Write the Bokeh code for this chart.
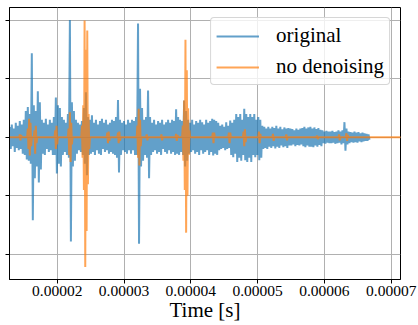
from bokeh.plotting import figure
from bokeh.models import FixedTicker, NumeralTickFormatter, Range1d
from bokeh.embed import file_html
from bokeh.resources import INLINE

# ---- data ----
# "original" signal: per-column positive / negative excursions,
# columns start at 12.9 us and are 0.3 us apart
T0_US = 12.9
DT_US = 0.3
blue_hi = [
    0.18, 0.22, 0.15, 0.25, 0.20, 0.28, 0.22, 0.30, 0.45, 0.52,
    0.40, 1.44, 0.55, 0.45, 0.79, 0.60, 0.30, 0.25, 0.32, 0.22,
    0.30, 0.25, 0.35, 0.68, 0.55, 0.50, 0.35, 0.30, 0.25, 0.40,
    2.01, 0.60, 0.45, 0.30, 0.25, 0.22, 0.28, 0.50, 0.77, 0.35,
    0.30, 0.38, 0.25, 0.30, 0.22, 0.28, 0.32, 0.25, 0.30, 0.22,
    0.25, 0.30, 0.28, 0.35, 0.64, 0.30, 0.25, 0.28, 0.22, 0.30,
    0.25, 0.30, 0.28, 0.35, 1.95, 0.83, 0.50, 0.30, 0.35, 0.80,
    0.35, 0.25, 0.30, 0.22, 0.28, 0.25, 0.30, 0.22, 0.26, 0.30,
    0.25, 0.30, 0.28, 0.48, 0.35, 0.30, 0.28, 0.63, 0.45, 0.30,
    0.25, 0.30, 0.22, 0.28, 0.25, 0.30, 0.26, 0.22, 0.30, 0.25,
    0.28, 0.32, 0.30, 0.28, 0.25, 0.20, 0.22, 0.18, 0.26, 0.20,
    0.29, 0.25, 0.30, 0.40, 0.35, 0.40, 0.30, 0.49, 0.40, 0.35,
    0.40, 0.35, 0.40, 0.30, 0.35, 0.30, 0.20, 0.18, 0.15, 0.18,
    0.15, 0.18, 0.16, 0.20, 0.15, 0.18, 0.14, 0.17, 0.15, 0.16,
    0.15, 0.14, 0.12, 0.15, 0.13, 0.15, 0.16, 0.18, 0.15, 0.17,
    0.18, 0.15, 0.17, 0.14, 0.16, 0.13, 0.12, 0.10, 0.11, 0.10,
    0.10, 0.11, 0.09, 0.10, 0.12, 0.10, 0.12, 0.26, 0.15, 0.10,
    0.09, 0.08, 0.10, 0.08, 0.09, 0.07, 0.08, 0.07, 0.06, 0.05,
]
blue_lo = [
    -0.20, -0.15, -0.25, -0.18, -0.22, -0.20, -0.28, -0.30, -0.38, -0.40,
    -0.45, -1.42, -0.70, -0.50, -0.77, -0.55, -0.28, -0.30, -0.20, -0.25,
    -0.22, -0.30, -0.30, -0.62, -0.45, -0.50, -0.30, -0.25, -0.30, -0.35,
    -1.78, -0.50, -0.40, -0.28, -0.22, -0.25, -0.30, -0.45, -0.65, -0.30,
    -0.28, -0.25, -0.30, -0.22, -0.28, -0.30, -0.20, -0.25, -0.22, -0.28,
    -0.25, -0.28, -0.30, -0.35, -0.60, -0.30, -0.22, -0.25, -0.28, -0.22,
    -0.28, -0.22, -0.30, -0.30, -1.82, -0.50, -0.40, -0.30, -0.35, -0.70,
    -0.30, -0.25, -0.22, -0.28, -0.25, -0.30, -0.20, -0.25, -0.28, -0.22,
    -0.28, -0.25, -0.30, -0.28, -0.30, -0.25, -0.30, -0.50, -0.40, -0.28,
    -0.25, -0.22, -0.28, -0.25, -0.30, -0.22, -0.28, -0.25, -0.22, -0.30,
    -0.25, -0.31, -0.28, -0.30, -0.22, -0.20, -0.18, -0.22, -0.20, -0.18,
    -0.30, -0.34, -0.28, -0.42, -0.35, -0.40, -0.30, -0.39, -0.42, -0.35,
    -0.42, -0.30, -0.34, -0.30, -0.39, -0.35, -0.20, -0.18, -0.20, -0.16,
    -0.18, -0.15, -0.19, -0.16, -0.18, -0.14, -0.17, -0.15, -0.18, -0.14,
    -0.14, -0.12, -0.15, -0.13, -0.14, -0.12, -0.15, -0.17, -0.14, -0.16,
    -0.16, -0.17, -0.14, -0.16, -0.13, -0.15, -0.10, -0.11, -0.09, -0.10,
    -0.10, -0.09, -0.11, -0.10, -0.09, -0.12, -0.10, -0.23, -0.12, -0.10,
    -0.08, -0.09, -0.08, -0.09, -0.07, -0.08, -0.07, -0.06, -0.06, -0.04,
]

# "no denoising" signal: explicit samples (time in microseconds, value)
orange_t_us = [
    12.9,
    14.3, 14.4, 14.5, 14.6, 14.7,
    15.5, 15.6, 15.7, 15.8, 15.9, 16.0, 16.1, 16.2,
    16.5, 16.6, 16.7, 16.8, 16.9, 17.0,
    19.6, 19.7, 19.8, 19.9, 20.0, 20.1,
    21.6, 21.7, 21.8, 21.9, 22.0, 22.1, 22.2, 22.3,
    23.6, 23.7, 23.8, 23.9, 24.0, 24.1, 24.2, 24.3, 24.4, 24.5, 24.6, 24.7, 24.8, 24.9,
    27.4, 27.5, 27.6, 27.7, 27.8, 27.9,
    29.0, 29.1, 29.2, 29.3, 29.4, 29.5,
    31.9, 32.0, 32.1, 32.2, 32.3, 32.4, 32.5, 32.6,
    33.3, 33.4, 33.5, 33.6,
    35.5, 35.6, 35.7, 35.8,
    37.7, 37.8, 37.9, 38.0, 38.1,
    38.7, 38.8, 38.9, 39.0, 39.1, 39.2, 39.3, 39.4, 39.5, 39.6, 39.7, 39.8, 39.9,
    43.2, 43.3, 43.4, 43.5, 43.6,
    45.6, 45.7, 45.8, 45.9, 46.0,
    47.8, 47.9, 48.0, 48.1, 48.2, 48.3,
    50.1, 50.2, 50.3, 50.4, 50.5,
    52.2, 52.3, 52.4, 52.5,
    54.2, 54.3, 54.4, 54.5,
    58.8, 58.9, 59.0, 59.1,
    62.1, 62.2, 62.3, 62.4,
    63.2, 63.3, 63.4, 63.5, 63.6,
    72.0,
]
orange_v = [
    0.0,
    0.0, 0.05, -0.05, 0.04, 0.0,
    0.0, 0.15, -0.20, 0.32, -0.31, 0.25, -0.15, 0.0,
    0.0, 0.12, -0.28, 0.20, -0.10, 0.0,
    0.0, 0.12, -0.20, 0.20, -0.12, 0.0,
    0.0, 0.15, -0.30, 0.43, -0.42, 0.25, -0.12, 0.0,
    0.0, 0.20, -0.35, 0.55, -0.90, 2.00, -2.22, 1.50, -1.60, 1.83, -0.80, 0.40, -0.20, 0.0,
    0.0, 0.08, -0.10, 0.10, -0.06, 0.0,
    0.0, 0.08, -0.10, 0.10, -0.06, 0.0,
    0.0, 0.20, -0.35, 0.49, -0.48, 0.30, -0.15, 0.0,
    0.0, 0.05, -0.05, 0.0,
    0.0, 0.05, -0.05, 0.0,
    0.0, 0.06, -0.06, 0.04, 0.0,
    0.0, 0.20, -0.40, 0.63, -0.90, 1.67, -1.63, 1.15, -1.00, 0.50, -0.30, 0.12, 0.0,
    0.0, 0.08, -0.10, 0.08, 0.0,
    0.0, 0.08, -0.10, 0.08, 0.0,
    0.0, 0.10, -0.15, 0.14, -0.08, 0.0,
    0.0, 0.10, -0.10, 0.06, 0.0,
    0.0, 0.06, -0.06, 0.0,
    0.0, 0.05, -0.05, 0.0,
    0.0, 0.03, -0.03, 0.0,
    0.0, 0.05, -0.05, 0.0,
    0.0, 0.07, -0.06, 0.04, 0.0,
    0.0,
]

x_ticks = [0.00002, 0.00003, 0.00004, 0.00005, 0.00006, 0.00007]
y_ticks = [-2, -1, 0, 1, 2]

# ---- build series ----
blue_t, blue_v = [], []
for i, (h, l) in enumerate(zip(blue_hi, blue_lo)):
    t = (T0_US + i * DT_US) * 1e-6
    blue_t += [t, t + 0.5 * DT_US * 1e-6]
    blue_v += [h, l]
orange_t = [t * 1e-6 for t in orange_t_us]

SERIF = "'Liberation Serif', 'Times New Roman', serif"

p = figure(
    width=418, height=325,
    output_backend="svg", toolbar_location=None,
    x_range=Range1d(1.2859e-5, 7.139e-5),
    y_range=Range1d(-2.432, 2.222),
    min_border_left=9, min_border_top=7, min_border_right=18, min_border_bottom=46,
)
p.background_fill_color = "white"
p.border_fill_color = "white"
p.outline_line_color = "black"
p.outline_line_width = 1
p.outline_line_alpha = 1

p.line(blue_t, blue_v, line_color="#1f77b4", line_alpha=0.7, line_width=2,
       legend_label="original")
p.line(orange_t, orange_v, line_color="#ff7f0e", line_alpha=0.7, line_width=2,
       legend_label="no denoising")

# axes
p.xaxis.ticker = FixedTicker(ticks=x_ticks)
p.xaxis.formatter = NumeralTickFormatter(format="0.00000")
p.xaxis.axis_label = "Time [s]"
p.xaxis.axis_label_text_font = SERIF
p.xaxis.axis_label_text_font_size = "21px"
p.xaxis.axis_label_text_font_style = "normal"
p.xaxis.axis_label_text_color = "black"
p.xaxis.axis_label_standoff = -1
p.xaxis.major_label_text_font = SERIF
p.xaxis.major_label_text_font_size = "15.5px"
p.xaxis.major_label_text_font_style = "normal"
p.xaxis.major_label_text_color = "black"
p.xaxis.major_label_standoff = 2

p.yaxis.ticker = FixedTicker(ticks=y_ticks)
p.yaxis.major_label_overrides = {t: "" for t in y_ticks}
p.yaxis.major_label_standoff = 0

for ax in (p.xaxis, p.yaxis):
    ax.axis_line_color = "black"
    ax.major_tick_line_color = "black"
    ax.major_tick_in = 0
    ax.major_tick_out = 4
    ax.minor_tick_line_color = None

p.grid.grid_line_color = "#b0b0b0"
p.grid.grid_line_width = 1
p.xgrid.ticker = FixedTicker(ticks=x_ticks)
p.ygrid.ticker = FixedTicker(ticks=y_ticks)

lg = p.legend[0]
lg.location = "top_right"
lg.margin = 10
lg.padding = 5
lg.spacing = 6
lg.glyph_width = 43
lg.glyph_height = 24
lg.label_standoff = 17
lg.label_text_font = SERIF
lg.label_text_font_size = "21px"
lg.label_text_font_style = "normal"
lg.label_text_color = "black"
lg.border_line_color = "#cccccc"
lg.border_line_alpha = 0.8
lg.background_fill_alpha = 0.8
if "border_radius" in lg.properties():
    lg.border_radius = 4

open("out.html", "w").write(file_html(p, INLINE))
